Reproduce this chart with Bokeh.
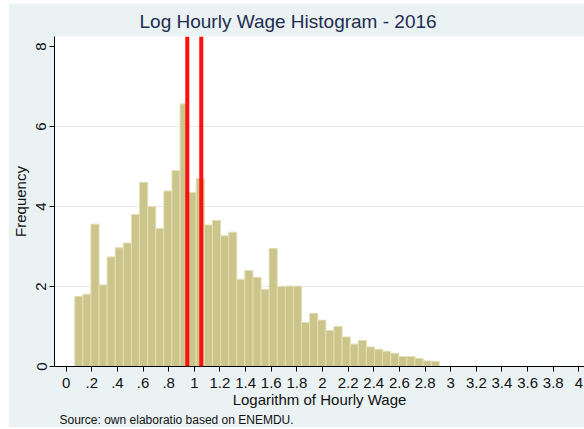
import numpy as np
from bokeh.plotting import figure
from bokeh.models import FixedTicker, Title, Span, Spacer
from bokeh.layouts import row, column
from bokeh.embed import file_html
from bokeh.resources import INLINE

# ---- data ----
freq = [1.75, 1.81, 3.56, 2.04, 2.74, 2.97, 3.09, 3.80, 4.61, 4.00,
        3.45, 4.39, 4.90, 6.57, 4.35, 4.70, 3.54, 3.65, 3.27, 3.36,
        2.18, 2.40, 2.23, 1.93, 2.95, 2.00, 2.01, 2.01, 1.10, 1.33,
        1.16, 0.90, 1.00, 0.74, 0.56, 0.65, 0.49, 0.43, 0.38, 0.33,
        0.25, 0.25, 0.20, 0.14, 0.13]
bin_start = 0.067
bin_width = 0.0632
ref_lines = [0.945, 1.054]

x_ticks = [0.0, 0.2, 0.4, 0.6, 0.8, 1.0, 1.2, 1.4, 1.6, 1.8, 2.0,
           2.2, 2.4, 2.6, 2.8, 3.0, 3.2, 3.4, 3.6, 3.8, 4.0]
x_tick_labels = ["0", ".2", ".4", ".6", ".8", "1", "1.2", "1.4", "1.6", "1.8", "2",
                 "2.2", "2.4", "2.6", "2.8", "3", "3.2", "3.4", "3.6", "3.8", "4"]
y_ticks = [0, 2, 4, 6, 8]
grid_ticks = [2, 4, 6]

title_text = "Log Hourly Wage Histogram - 2016"
x_label = "Logarithm of Hourly Wage"
y_label = "Frequency"
note_text = "Source: own elaboratio based on ENEMDU."

FONT = "Liberation Sans"
BG = "#eaf2f3"

p = figure(width=576, height=424, x_range=(-0.091, 4.044), y_range=(0, 8.254),
           output_backend="svg", toolbar_location=None,
           min_border_left=45, min_border_right=0, min_border_top=32, min_border_bottom=61)
p.title = None
p.border_fill_color = BG
p.background_fill_color = "white"
p.outline_line_color = None

n = len(freq)
left = bin_start + bin_width * np.arange(n)
right = left + bin_width
p.quad(left=left, right=right, bottom=0, top=freq,
       fill_color="#cbc48b", line_color="#e2deb3", line_width=1)

for v in ref_lines:
    p.add_layout(Span(location=v, dimension="height", line_color="#ff1010", line_width=4))

# axes
xa = p.xaxis[0]
xa.ticker = FixedTicker(ticks=x_ticks)
xa.major_label_overrides = {t: l for t, l in zip(x_ticks, x_tick_labels)}
xa.axis_label = x_label
ya = p.yaxis[0]
ya.ticker = FixedTicker(ticks=y_ticks)
ya.major_label_orientation = "vertical"
ya.axis_label = y_label
for ax in (xa, ya):
    ax.axis_line_color = "black"
    ax.major_tick_line_color = "black"
    ax.major_tick_out = 5
    ax.major_tick_in = 0
    ax.minor_tick_line_color = None
    ax.major_label_text_font = FONT
    ax.major_label_text_font_size = "15px"
    ax.major_label_text_color = "#111111"
    ax.axis_label_text_font = FONT
    ax.axis_label_text_font_size = "15px"
    ax.axis_label_text_font_style = "normal"
    ax.axis_label_text_color = "#111111"
xa.major_label_standoff = 6
xa.axis_label_standoff = 0
ya.major_label_standoff = 3
ya.axis_label_standoff = 5

p.xgrid.visible = False
p.ygrid.ticker = FixedTicker(ticks=grid_ticks)
p.ygrid.grid_line_color = "#e4e9e9"

p.add_layout(Title(text=title_text, align="left", offset=85, text_font=FONT,
                   text_font_size="19px", text_font_style="normal",
                   text_color="#1f2d4f", standoff=10), "above")
p.add_layout(Title(text=note_text, align="left", offset=5, text_font=FONT,
                   text_font_size="12px", text_font_style="normal",
                   text_color="#111111", standoff=0), "below")

page = column(Spacer(width=584, height=3), row(Spacer(width=8, height=424), p))

open("out.html", "w").write(file_html(page, INLINE))
